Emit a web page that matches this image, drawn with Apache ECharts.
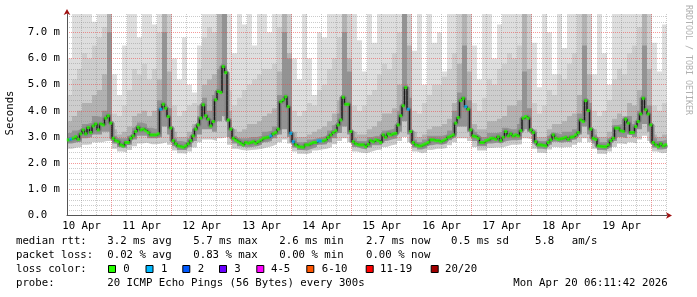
<!DOCTYPE html>
<html><head><meta charset="utf-8">
<script src="https://cdn.jsdelivr.net/npm/echarts@6/dist/echarts.min.js"></script>
<style>html,body{margin:0;padding:0;background:#fff}#c{width:697px;height:297px}</style>
</head><body><div id="c"></div>
<script>
// hours since 10 Apr 00:00
const startHour = 6.195, endHour = 246.195;
const dayLabels = ['10 Apr','11 Apr','12 Apr','13 Apr','14 Apr','15 Apr','16 Apr','17 Apr','18 Apr','19 Apr'];
const yLabels = [0,1,2,3,4,5,6,7];
// median rtt (ms), one value per hour
const median = [
2.89,2.92,2.95,3.01,2.91,3.12,3.27,3.12,3.36,3.17,3.42,3.50,3.27,3.50,3.46,3.72,3.81,3.53,2.95,2.86,
2.82,2.70,2.66,2.79,2.79,2.95,3.04,3.21,3.37,3.27,3.30,3.24,3.17,3.08,3.08,3.08,3.12,4.06,4.25,4.10,
3.78,3.34,2.86,2.74,2.66,2.63,2.61,2.66,2.74,2.86,3.04,3.30,3.46,3.72,4.23,3.81,3.68,3.42,3.59,4.42,
4.74,4.70,5.69,5.46,3.65,3.30,2.95,2.88,2.82,2.76,2.70,2.79,2.76,2.79,2.82,2.76,2.82,2.88,2.95,2.97,
2.99,3.04,3.12,3.17,3.30,4.35,4.42,4.54,4.16,3.14,2.82,2.70,2.63,2.62,2.61,2.70,2.70,2.75,2.79,2.79,
2.85,2.85,2.85,2.89,2.98,3.08,3.17,3.24,3.46,3.65,4.52,4.25,4.25,3.21,2.82,2.74,2.70,2.70,2.70,2.63,
2.72,2.86,2.82,2.89,2.86,2.79,3.08,2.99,3.12,3.08,3.12,3.14,3.46,3.81,4.19,4.89,4.06,3.21,2.79,2.70,
2.66,2.66,2.70,2.74,2.79,2.89,2.89,2.86,2.86,2.82,2.86,2.91,2.99,3.03,3.08,3.53,3.74,4.39,4.48,4.16,
4.06,3.27,3.04,3.01,2.95,2.79,2.79,2.86,2.89,2.95,2.95,2.91,3.01,2.86,2.99,3.21,3.04,3.12,3.04,3.08,
3.04,3.24,3.72,3.78,3.72,3.27,3.17,2.82,2.70,2.70,2.68,2.66,2.79,2.89,3.08,2.95,2.91,2.93,2.95,2.99,
2.91,2.99,3.01,3.08,3.17,3.65,3.59,4.39,4.01,3.30,2.95,2.91,2.66,2.64,2.63,2.63,2.70,2.86,2.95,3.34,
3.34,3.24,3.21,3.68,3.53,3.17,3.17,3.40,3.59,3.88,4.48,4.04,3.88,3.46,2.79,2.70,2.63,2.74,2.66,2.70];
// hours (indexes into median) with 1 lost packet
const lossOne = [1,37,81,89,90,100,101,136,159];
// smoke bands, one value per 2 hours (ms)
const smokeTop = [6.0,7.7,7.7,7.7,7.7,7.4,7.7,7.7,7.7,
5.4,4.6,6.5,7.7,7.7,6.8,7.7,7.7,7.3,7.7,7.7,7.7,
6.0,5.2,6.8,5.0,4.7,6.5,7.7,7.7,7.7,7.7,7.7,
7.7,6.2,7.7,7.3,7.7,6.5,7.7,7.7,7.0,7.7,7.7,7.7,7.7,
6.0,5.2,7.7,6.0,4.6,7.0,6.8,7.7,7.7,7.7,7.7,7.7,
7.7,6.7,5.5,7.7,6.6,7.7,7.7,7.7,7.7,7.7,7.7,7.7,
6.3,7.7,5.0,7.7,6.6,7.0,5.5,7.7,7.7,7.7,7.7,7.7,
6.5,5.2,7.7,7.7,6.0,7.3,7.7,7.7,7.7,7.7,7.7,7.7,
6.6,4.9,7.7,7.0,5.4,7.7,6.4,7.7,7.7,7.7,7.7,7.7,
5.4,7.7,6.2,5.0,7.7,7.7,7.7,7.7,7.7,7.7,7.7,7.7,
6.6,5.5,7.3];
const smokeB = [4.6,5.2,5.6,6.2,6.0,6.5,6.8,7.2,7.7,
3.9,3.8,4.2,4.8,5.6,5.4,5.8,5.2,5.6,7.0,7.7,7.7,
4.2,3.8,4.0,4.2,4.3,5.6,6.8,7.2,7.0,7.7,7.7,
4.8,4.2,4.5,4.8,5.0,5.2,5.4,5.6,5.6,5.8,7.2,7.7,7.7,
4.0,3.8,4.0,4.3,4.2,4.8,5.0,5.6,6.0,6.8,7.7,7.7,
4.2,4.0,4.2,4.6,4.8,5.4,5.8,5.6,6.2,7.0,7.7,7.7,
4.0,3.9,4.3,4.6,5.0,5.0,5.3,5.6,6.2,7.7,7.7,7.7,
4.3,4.0,4.5,5.2,5.0,5.6,5.8,6.2,6.0,6.5,7.7,7.7,
4.3,3.9,4.2,4.8,4.6,5.4,5.2,5.8,6.2,7.7,7.7,7.7,
4.0,3.8,4.0,4.4,5.2,5.6,5.4,6.2,6.5,7.2,7.7,7.7,
4.2,4.0,4.3];
const smokeC = [3.6,3.8,4.0,4.3,4.3,4.6,4.8,5.4,7.7,
3.3,3.1,3.2,3.4,3.8,3.9,4.0,3.8,4.0,5.2,7.7,5.5,
3.2,3.0,3.0,3.2,3.5,4.2,5.0,5.2,5.4,7.7,7.7,
4.0,3.3,3.2,3.3,3.5,3.5,3.6,3.8,3.9,4.1,5.5,7.7,6.2,
3.2,3.0,3.0,3.1,3.2,3.3,3.4,3.6,3.9,4.4,7.7,6.0,
3.2,3.1,3.1,3.3,3.4,3.6,3.9,3.9,4.1,5.0,7.7,6.5,
3.2,3.0,3.1,3.3,3.4,3.4,3.5,3.7,4.3,5.8,7.7,5.5,
3.5,3.3,3.3,3.6,3.6,3.7,3.8,4.2,4.2,4.4,7.7,5.6,
3.3,3.0,3.0,3.3,3.5,3.5,3.6,3.8,3.9,4.6,7.7,5.4,
3.3,3.0,3.0,3.2,3.7,3.9,3.8,4.3,4.2,4.8,7.7,5.6,
3.1,3.0,3.1];
const smokeD = [3.15,3.25,3.3,3.5,3.55,3.8,3.75,4.0,7.0,
3.05,2.95,2.95,3.05,3.35,3.55,3.5,3.35,3.3,4.4,7.0,4.1,
2.95,2.85,2.8,2.95,3.3,3.8,4.5,4.0,4.6,5.6,7.7,
3.5,3.05,2.95,2.95,3.0,3.0,3.05,3.2,3.25,3.4,4.6,7.0,6.0,
2.95,2.8,2.8,2.9,2.95,3.0,3.05,3.25,3.45,3.9,7.0,5.5,
2.95,2.85,2.85,3.0,3.05,3.0,3.25,3.3,3.35,4.0,7.7,4.5,
2.9,2.8,2.9,3.05,3.05,3.05,3.1,3.25,4.0,4.7,6.5,4.4,
3.2,3.0,3.0,3.15,3.15,3.2,3.35,3.3,3.3,3.5,5.5,4.1,
3.1,2.85,2.85,3.05,3.15,3.1,3.2,3.2,3.3,3.9,6.5,4.3,
3.1,2.8,2.8,2.95,3.45,3.5,3.6,3.8,3.5,4.0,6.5,4.2,
2.95,2.85,2.9];
const smokeLo2 = [2.75,2.8,2.82,2.95,3.0,3.1,3.1,3.2,3.2,
2.75,2.62,2.58,2.7,2.9,3.05,3.05,2.95,2.95,3.0,3.4,3.1,
2.65,2.5,2.5,2.62,2.85,3.1,3.3,3.3,3.2,3.6,3.8,
3.0,2.75,2.65,2.6,2.62,2.65,2.7,2.8,2.85,2.95,3.1,3.3,3.0,
2.6,2.5,2.48,2.55,2.62,2.7,2.72,2.8,2.95,3.15,3.4,3.1,
2.62,2.55,2.52,2.6,2.68,2.68,2.85,2.9,2.95,3.2,3.6,3.1,
2.6,2.52,2.58,2.68,2.72,2.7,2.75,2.88,3.1,3.4,3.4,3.2,
2.85,2.65,2.65,2.75,2.78,2.78,2.85,2.88,2.88,2.9,3.3,3.2,
2.75,2.55,2.52,2.7,2.82,2.78,2.82,2.8,2.9,3.1,3.4,3.1,
2.75,2.5,2.48,2.6,2.85,3.0,2.95,3.1,3.0,3.3,3.5,3.2,
2.6,2.52,2.55];
const smokeLo = [2.55,2.6,2.62,2.7,2.72,2.8,2.8,2.85,2.85,
2.55,2.45,2.42,2.5,2.65,2.75,2.78,2.72,2.72,2.75,2.8,2.7,
2.48,2.38,2.36,2.45,2.6,2.8,2.9,2.9,2.85,2.95,3.0,
2.7,2.55,2.5,2.48,2.5,2.52,2.55,2.6,2.65,2.72,2.8,2.9,2.75,
2.45,2.36,2.35,2.4,2.48,2.52,2.55,2.62,2.72,2.85,2.95,2.8,
2.45,2.4,2.38,2.45,2.5,2.52,2.62,2.68,2.72,2.85,3.0,2.8,
2.45,2.38,2.42,2.5,2.55,2.55,2.58,2.68,2.8,2.95,2.95,2.85,
2.62,2.48,2.48,2.58,2.6,2.6,2.65,2.7,2.7,2.72,2.95,2.9,
2.55,2.4,2.38,2.52,2.62,2.6,2.62,2.62,2.7,2.8,2.95,2.8,
2.55,2.36,2.35,2.45,2.62,2.75,2.72,2.8,2.75,2.9,3.05,2.85,
2.45,2.38,2.4];
const lossColors = ['#26ff00','#00b8ff','#0059ff','#6a00ff','#ff00ff','#ff5500','#ff0000','#a10000'];
const lossNames = ['0','1','2','3','4-5','6-10','11-19','20/20'];

const MONO = 'DejaVu Sans Mono';
const FS = 10.7;
function stepData(arr, step) {
  const d = arr.map((v, j) => [startHour + j * step, v]);
  d.push([endHour, arr[arr.length - 1]]);
  return d;
}
function area(arr, step, color) {
  return { type: 'line', step: 'end', data: stepData(arr, step), symbol: 'none', silent: true,
    lineStyle: { width: 0 }, areaStyle: { color: color, opacity: 1 }, z: 1, animation: false };
}
const midnights = [], noons = [], sixes = [];
for (let h = 0; h <= 252; h += 6) {
  if (h < startHour || h > endHour) continue;
  if (h % 24 === 0) midnights.push(h); else sixes.push(h);
  if (h % 24 === 12) noons.push(h);
}
const yMinor = [];
for (let k = 1; k <= 38; k++) { if (k % 5) yMinor.push(k * 0.2); }

const markers = median.map((v, i) => ({
  value: [startHour + i + 0.5, v],
  itemStyle: { color: lossOne.includes(i) ? lossColors[1] : lossColors[0] }
}));

const chart = echarts.init(document.getElementById('c'), null, { renderer: 'canvas' });
const txt = (x, y, s, extra) => Object.assign({ type: 'text', x: x, y: y,
  style: { text: s, fontFamily: MONO, fontSize: FS, fill: '#000', verticalAlign: 'middle' } }, extra || {});

const graphics = [
  { type: 'text', x: 10, y: 113, rotation: Math.PI / 2,
    style: { text: 'Seconds', fontFamily: MONO, fontSize: FS, fill: '#000', align: 'center', verticalAlign: 'middle' } },
  { type: 'text', x: 688, y: 60, rotation: -Math.PI / 2,
    style: { text: 'RRDTOOL / TOBI OETIKER', fontFamily: MONO, fontSize: 8.3, fill: '#b0b0b0', align: 'center', verticalAlign: 'middle' } },
  txt(16, 241.5, 'median rtt:'), txt(107.3, 241.5, '3.2 ms avg'), txt(193.3, 241.5, '5.7 ms max'),
  txt(279.3, 241.5, '2.6 ms min'), txt(366, 241.5, '2.7 ms now'), txt(451, 241.5, '0.5 ms sd'),
  txt(535, 241.5, '5.8'), txt(571.7, 241.5, 'am/s'),
  txt(16, 255.3, 'packet loss:'), txt(107.3, 255.3, '0.02 % avg'), txt(193.3, 255.3, '0.83 % max'),
  txt(279.3, 255.3, '0.00 % min'), txt(366, 255.3, '0.00 % now'),
  txt(16, 269, 'loss color:'),
  txt(16, 282.8, 'probe:'), txt(107.3, 282.8, '20 ICMP Echo Pings (56 Bytes) every 300s'),
  txt(513.3, 282.8, 'Mon Apr 20 06:11:42 2026')
];
const boxX = [108.5, 146, 182.8, 219.5, 256.8, 306.8, 366.2, 431.2];
const labX = [123.3, 161, 197.7, 234.3, 271, 321.7, 380, 445];
lossColors.forEach((c, k) => {
  graphics.push({ type: 'rect', shape: { x: boxX[k], y: 265.5, width: 7, height: 7 },
    style: { fill: c, stroke: '#000', lineWidth: 1 } });
  graphics.push(txt(labX[k], 269, lossNames[k]));
});

const dashed = (c) => ({ show: true, lineStyle: { color: c, width: 1, type: [1, 1] } });
chart.setOption({
  animation: false,
  backgroundColor: '#fff',
  grid: { left: 67, right: 30, top: 14, bottom: 81.5, outerBoundsMode: 'none', containLabel: false },
  xAxis: [
    { type: 'value', min: startHour, max: endHour, position: 'bottom', z: 3,
      axisLine: { show: true, onZero: false, lineStyle: { color: '#555', width: 1 } },
      axisTick: { show: false, customValues: midnights },
      axisLabel: { show: true, customValues: noons, margin: 5, color: '#000', fontFamily: MONO, fontSize: FS,
        formatter: v => dayLabels[Math.round((v - 12) / 24)] },
      splitLine: dashed('rgba(235,70,70,0.55)') },
    { type: 'value', min: startHour, max: endHour, position: 'bottom', z: 3,
      axisLine: { show: true, onZero: false, symbol: ['none', 'arrow'], symbolSize: [5, 6], symbolOffset: [0, 5],
        lineStyle: { color: '#a01010', width: 0 } },
      axisTick: { show: false, customValues: sixes }, axisLabel: { show: false },
      splitLine: dashed('rgba(140,140,140,0.45)') }
  ],
  yAxis: [
    { type: 'value', min: 0, max: 7.7, position: 'left', z: 3,
      axisLine: { show: true, onZero: false, lineStyle: { color: '#555', width: 1 } },
      axisTick: { show: false, customValues: yLabels },
      axisLabel: { show: true, customValues: yLabels, margin: 7, color: '#000', fontFamily: MONO, fontSize: FS,
        formatter: v => v === 0 ? '0.0  ' : v.toFixed(1) + ' m' },
      splitLine: dashed('rgba(235,70,70,0.55)') },
    { type: 'value', min: 0, max: 7.7, position: 'left', z: 3,
      axisLine: { show: true, onZero: false, symbol: ['none', 'arrow'], symbolSize: [5, 6], symbolOffset: [0, 5],
        lineStyle: { color: '#a01010', width: 0 } },
      axisTick: { show: false, customValues: yMinor }, axisLabel: { show: false },
      splitLine: dashed('rgba(140,140,140,0.45)') }
  ],
  graphic: graphics,
  series: [
    area(smokeTop, 2, '#dedede'),
    area(smokeB, 2, '#cdcdcd'),
    area(smokeC, 2, '#b2b2b2'),
    area(smokeD, 2, '#939393'),
    area(smokeLo2, 2, '#cacaca'),
    area(smokeLo, 2, '#ffffff'),
    { type: 'line', step: 'end', data: stepData(median, 1), symbol: 'none', silent: true, z: 1,
      lineStyle: { width: 5, color: '#858585' } },
    { type: 'line', step: 'end', data: stepData(median, 1), symbol: 'none', silent: true, z: 1,
      lineStyle: { width: 2, color: '#555555' } },
    { type: 'line', step: 'end', data: stepData(median, 1), symbol: 'none', silent: true, z: 4,
      lineStyle: { width: 1, color: '#1a1a1a' } },
    { type: 'scatter', data: markers, symbol: 'rect', symbolSize: [3, 3], silent: true, z: 5 }
  ]
});
</script></body></html>
